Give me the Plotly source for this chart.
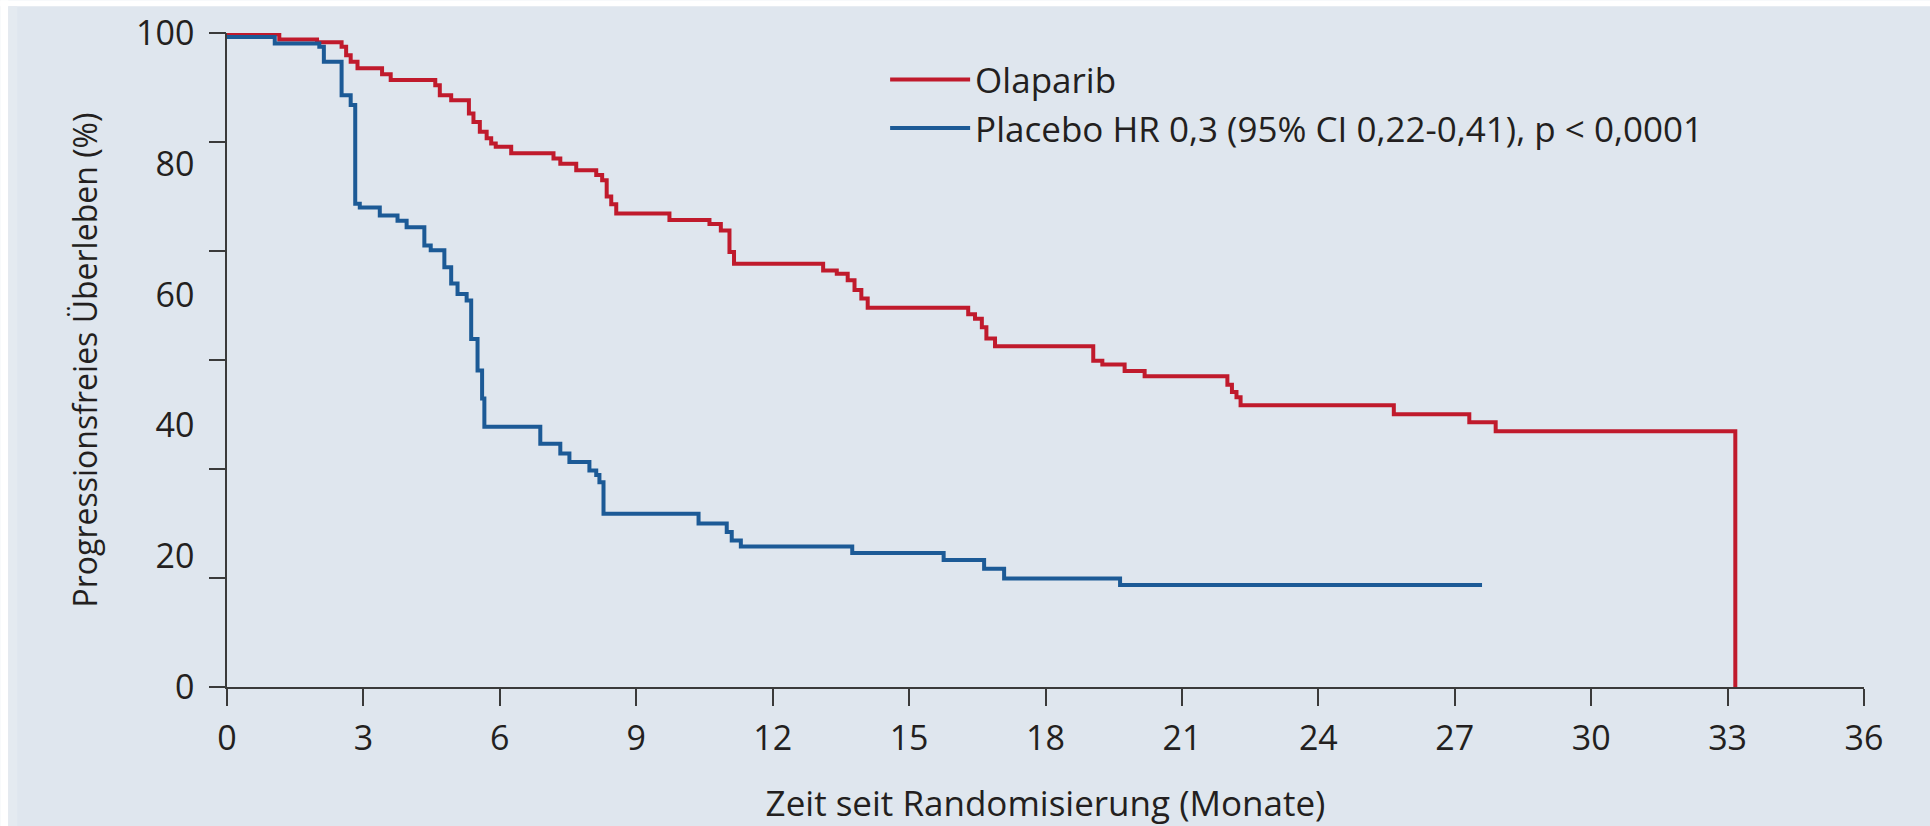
import plotly.graph_objects as go

# ---- data (months, progression-free survival %) ----
olaparib_t = [0, 1.15, 1.98, 2.52, 2.62, 2.72, 2.87, 3.41, 3.60, 4.58, 4.68, 4.93,
              5.32, 5.42, 5.56, 5.71, 5.81, 5.91, 6.25, 7.18, 7.33, 7.68, 8.12, 8.25,
              8.35, 8.45, 8.56, 9.73, 10.61, 10.86, 11.05, 11.15, 13.11, 13.41, 13.65,
              13.80, 13.95, 14.09, 16.30, 16.45, 16.60, 16.70, 16.89, 19.05, 19.25,
              19.74, 20.18, 22.00, 22.10, 22.20, 22.29, 25.66, 27.32, 27.90, 33.17]
olaparib_s = [99.8, 99.0, 98.6, 97.9, 96.6, 95.6, 94.6, 93.7, 92.8, 92.0, 90.5, 89.7,
              87.7, 86.4, 84.9, 83.9, 83.1, 82.6, 81.6, 80.8, 80.0, 79.0, 78.3, 77.5,
              75.0, 73.8, 72.4, 71.4, 70.8, 69.8, 66.5, 64.7, 63.7, 63.2, 62.2,
              60.7, 59.4, 58.0, 57.0, 56.3, 55.0, 53.3, 52.1, 49.9, 49.3,
              48.3, 47.5, 46.2, 45.1, 44.3, 43.1, 41.7, 40.5, 39.1, 0.0]

placebo_t = [0, 1.05, 2.03, 2.13, 2.52, 2.72, 2.82, 2.92, 3.36, 3.75, 3.95, 4.34,
             4.48, 4.78, 4.93, 5.07, 5.27, 5.37, 5.51, 5.61, 5.66, 6.89, 7.33, 7.53,
             7.97, 8.12, 8.19, 8.28, 10.37, 10.99, 11.10, 11.30, 13.75, 15.76, 16.65,
             17.09, 19.64, 27.60]
placebo_s = [99.4, 98.4, 97.9, 95.6, 90.5, 89.0, 73.9, 73.3, 72.1, 71.3, 70.3, 67.5,
             66.8, 64.2, 61.7, 60.1, 59.1, 53.2, 48.4, 44.1, 39.8, 37.2, 35.7, 34.4,
             33.1, 32.4, 31.3, 26.5, 25.0, 23.7, 22.4, 21.5, 20.5, 19.4, 18.1,
             16.6, 15.6, 15.6]

series_names = ["Olaparib", "Placebo HR 0,3 (95% CI 0,22-0,41), p < 0,0001"]
x_ticks = list(range(0, 37, 3))
y_label_vals = [0, 20, 40, 60, 80, 100]
y_mark_vals = [i * 100 / 6 for i in range(7)]

RED = "#c01a2c"
BLUE = "#1c5a96"
AX = "#3a3a3a"
TXT = "#231f20"
BG = "#dfe6ee"
FONT = "Open Sans"
FS = 34

fig = go.Figure()
fig.add_trace(go.Scatter(x=olaparib_t, y=olaparib_s, mode="lines", line_shape="hv",
                         line=dict(color=RED, width=4), name=series_names[0]))
fig.add_trace(go.Scatter(x=placebo_t, y=placebo_s, mode="lines", line_shape="hv",
                         line=dict(color=BLUE, width=4), name=series_names[1]))
# carrier for the tick-mark axis
fig.add_trace(go.Scatter(x=[None], y=[None], yaxis="y2", showlegend=False,
                         hoverinfo="skip"))

L, T = 226.8, 32.7
W, H = 1637.2, 654.0

fig.update_layout(
    width=1930, height=826,
    margin=dict(l=L, r=1930 - L - W, t=T, b=826 - T - H, pad=0, autoexpand=False),
    paper_bgcolor=BG, plot_bgcolor=BG,
    font=dict(family=FONT, color=TXT, size=FS),
    showlegend=True,
    legend=dict(x=(885 - L) / W, y=(826 - 139.3 - 50) / H, xanchor="left", yanchor="top",
                bgcolor="rgba(0,0,0,0)", font=dict(size=35, family=FONT, color=TXT),
                tracegroupgap=0, itemwidth=80),
    xaxis=dict(range=[0, 36], tickmode="array", tickvals=x_ticks, automargin=False,
               ticks="outside", ticklen=17, tickwidth=1.5, tickcolor=AX,
               showline=True, linecolor=AX, linewidth=1.5,
               showgrid=False, zeroline=False,
               tickfont=dict(size=FS), ticklabelstandoff=3,
               title=dict(text="Zeit seit Randomisierung (Monate)", font=dict(size=35),
                          standoff=34)),
    yaxis=dict(range=[0, 100], tickmode="array", tickvals=y_label_vals, automargin=False,
               ticks="outside", ticklen=24, tickcolor="rgba(0,0,0,0)",
               showline=True, linecolor=AX, linewidth=1.5,
               showgrid=False, zeroline=False,
               tickfont=dict(size=FS),
               title=dict(text="Progressionsfreies Überleben (%)", font=dict(size=32),
                          standoff=29)),
    yaxis2=dict(range=[0, 100], overlaying="y", side="left", tickmode="array",
                automargin=False,
                tickvals=y_mark_vals, ticks="outside", ticklen=17, tickwidth=1.5,
                tickcolor=AX, showticklabels=False, showline=False,
                showgrid=False, zeroline=False),
    shapes=[
        dict(type="rect", xref="paper", yref="paper", layer="below",
             x0=-L / W, x1=(1930 - L) / W, y0=(H + T - 6) / H, y1=(H + T) / H,
             fillcolor="white", line=dict(width=0)),
        dict(type="rect", xref="paper", yref="paper", layer="below",
             x0=-L / W, x1=(8 - L) / W, y0=-(826 - T - H) / H, y1=(H + T) / H,
             fillcolor="white", line=dict(width=0)),
        dict(type="rect", xref="paper", yref="paper", layer="below",
             x0=(8 - L) / W, x1=(17 - L) / W, y0=-(826 - T - H) / H, y1=(H + T - 6) / H,
             fillcolor="#e4eaf0", line=dict(width=0)),
    ],
)

fig.write_html("out.html")
